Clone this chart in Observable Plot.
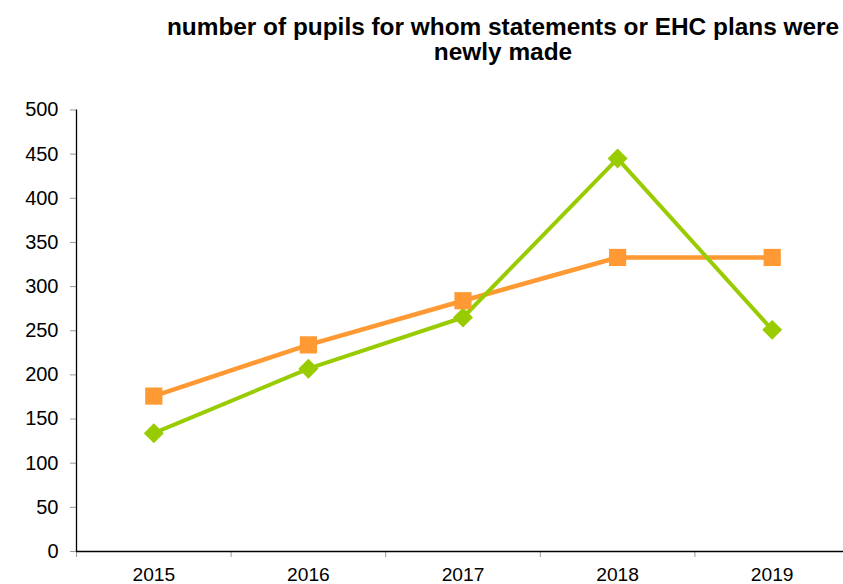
<!DOCTYPE html>
<html>
<head>
<meta charset="utf-8">
<script src="https://cdn.jsdelivr.net/npm/d3@7"></script>
<script src="https://cdn.jsdelivr.net/npm/@observablehq/plot@0.6"></script>
<style>
  html, body { margin: 0; padding: 0; background: #fff; }
  #title {
    width: 700px; padding-left: 153px; box-sizing: content-box;
    text-align: center; font-family: "Liberation Sans", Arial, sans-serif;
    font-weight: bold; font-size: 24.4px; line-height: 25px; color: #000;
    padding-top: 14px; height: 56px; white-space: nowrap;
  }
  #chart svg { display: block; }
</style>
</head>
<body>
<div id="title">number of pupils for whom statements or EHC plans were<br>newly made</div>
<div id="chart"></div>
<script>
const years = [2015, 2016, 2017, 2018, 2019];
const seriesGreen = [134, 207, 265, 445, 251];
const seriesOrange = [176, 234, 284, 333, 333];
const yTicks = [0, 50, 100, 150, 200, 250, 300, 350, 400, 450, 500];
const categoryEdges = [2014.5, 2015.5, 2016.5, 2017.5, 2018.5, 2019.5];

const green = "#99CC00";
const orange = "#FF9933";

const greenData = years.map((y, i) => ({year: y, value: seriesGreen[i]}));
const orangeData = years.map((y, i) => ({year: y, value: seriesOrange[i]}));

const chart = Plot.plot({
  width: 843,
  height: 514,
  marginTop: 39.5,
  marginBottom: 33,
  marginLeft: 76,
  marginRight: 0,
  style: {fontFamily: "Liberation Sans, Arial, sans-serif", fontSize: "20px", color: "#000", background: "#fff"},
  x: {type: "linear", domain: [categoryEdges[0], categoryEdges[categoryEdges.length - 1]], range: [76, 849]},
  y: {domain: [0, 500]},
  marks: [
    Plot.axisY({ticks: yTicks, tickSize: 6, tickPadding: 12, stroke: "#999", label: null, fontSize: 20, fill: "#000"}),
    Plot.axisX({ticks: categoryEdges, tickFormat: () => "", tickSize: 6, stroke: "#999", label: null}),
    Plot.axisX({ticks: years, tickFormat: d => String(d), tickSize: 0, tickPadding: 16, label: null, fontSize: 19.2, fill: "#000"}),
    Plot.ruleY([0], {stroke: "#000", strokeWidth: 1.3}),
    Plot.ruleX([categoryEdges[0]], {stroke: "#000", strokeWidth: 1.3}),
    Plot.line(orangeData, {x: "year", y: "value", stroke: orange, strokeWidth: 4.5}),
    Plot.line(greenData, {x: "year", y: "value", stroke: green, strokeWidth: 4}),
    Plot.dot(greenData, {x: "year", y: "value", symbol: "diamond2", r: 9, fill: green, stroke: null}),
    Plot.dot(orangeData, {x: "year", y: "value", symbol: "square", r: 9.7, fill: orange, stroke: null})
  ]
});
document.getElementById("chart").appendChild(chart);
</script>
</body>
</html>
